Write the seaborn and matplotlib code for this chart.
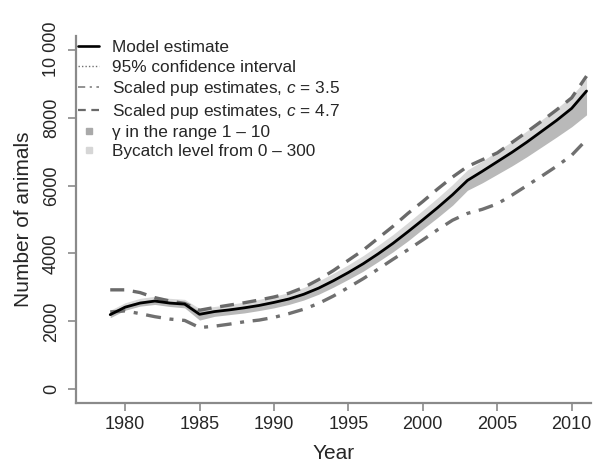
import matplotlib
matplotlib.use("Agg")
import matplotlib.pyplot as plt
import seaborn as sns
import pandas as pd
from matplotlib.lines import Line2D

years = list(range(1979, 2012))
model = [2200, 2420, 2540, 2600, 2540, 2510, 2210, 2290, 2340, 2400,
         2470, 2560, 2660, 2800, 2980, 3200, 3440, 3700, 3990, 4300,
         4640, 4990, 5350, 5730, 6150, 6420, 6700, 6980, 7280, 7600,
         7920, 8270, 8780]
pup_c47 = [2930, 2930, 2850, 2700, 2600, 2530, 2330, 2410, 2480, 2550,
           2630, 2720, 2830, 3000, 3230, 3500, 3800, 4100, 4450, 4800,
           5180, 5530, 5900, 6250, 6560, 6760, 6960, 7270, 7580, 7900,
           8230, 8580, 9220]
pup_c35 = [2280, 2310, 2230, 2140, 2070, 2030, 1820, 1860, 1920, 1990,
           2040, 2120, 2230, 2360, 2530, 2750, 3000, 3260, 3540, 3830,
           4110, 4400, 4700, 4980, 5180, 5300, 5460, 5720, 6000, 6280,
           6570, 6890, 7350]
gamma_low = [2110, 2330, 2450, 2500, 2440, 2400, 2040, 2150, 2200, 2250,
             2320, 2400, 2500, 2630, 2800, 3010, 3240, 3480, 3760, 4050,
             4370, 4720, 5060, 5420, 5860, 6080, 6330, 6580, 6850, 7140,
             7430, 7730, 8080]
gamma_high = [2260, 2480, 2600, 2660, 2600, 2580, 2300, 2340, 2390, 2450,
              2520, 2610, 2710, 2850, 3030, 3250, 3490, 3750, 4040, 4350,
              4690, 5040, 5400, 5780, 6200, 6470, 6750, 7030, 7330, 7650,
              7970, 8320, 8840]
bycatch_high = [2330, 2550, 2680, 2740, 2680, 2650, 2380, 2440, 2500, 2570,
                2650, 2740, 2850, 3000, 3190, 3420, 3670, 3940, 4240, 4560,
                4910, 5270, 5640, 6030, 6460, 6720, 7010, 7300, 7610, 7940,
                8270, 8630, 9150]

x_ticks = [1980, 1985, 1990, 1995, 2000, 2005, 2010]
y_ticks = [0, 2000, 4000, 6000, 8000, 10000]
y_tick_labels = ["0", "2000", "4000", "6000", "8000", "10 000"]

labels = ["Model estimate", "95% confidence interval",
          "Scaled pup estimates, $c$ = 3.5", "Scaled pup estimates, $c$ = 4.7",
          "\u03b3 in the range 1 \u2013 10", "Bycatch level from 0 \u2013 300"]

sns.set_style("ticks")
plt.rcParams["font.family"] = ["Liberation Sans", "DejaVu Sans"]
plt.rcParams["mathtext.fontset"] = "custom"
plt.rcParams["mathtext.it"] = "Liberation Sans:italic"
plt.rcParams["mathtext.rm"] = "Liberation Sans"

axis_grey = "#8a8a8a"
text_col = "#262626"

fig = plt.figure(figsize=(5.93, 4.63), dpi=100)
ax = fig.add_axes([76 / 593, 60 / 463, 515 / 593, 367 / 463])

ax.fill_between(years, model, bycatch_high, color="#d9d9d9", lw=0, zorder=1)
ax.fill_between(years, gamma_low, gamma_high, color="#b9b9b9", lw=0, zorder=2)

df = pd.DataFrame({"Year": years, "model": model, "c35": pup_c35, "c47": pup_c47})
sns.lineplot(data=df, x="Year", y="c35", ax=ax, color="#707070", lw=2.4,
             dashes=False, zorder=3)
ax.lines[-1].set_dashes([4.5, 2.6, 1.2, 2.6])
sns.lineplot(data=df, x="Year", y="c47", ax=ax, color="#6a6a6a", lw=2.4, zorder=3)
ax.lines[-1].set_dashes([4.2, 2.6])
sns.lineplot(data=df, x="Year", y="model", ax=ax, color="black", lw=2.0, zorder=4)

ax.set_xlim(1976.7, 2011.3)
ax.set_ylim(-400, 10400)
ax.set_xticks(x_ticks)
ax.set_xticklabels([str(t) for t in x_ticks])
ax.set_yticks(y_ticks)
ax.set_yticklabels(y_tick_labels, rotation=90, va="center")

for s in ["top", "right"]:
    ax.spines[s].set_visible(False)
for s in ["left", "bottom"]:
    ax.spines[s].set_color(axis_grey)
    ax.spines[s].set_linewidth(1.6)
ax.tick_params(axis="both", colors=axis_grey, labelcolor=text_col, length=5.5,
               width=1.2, labelsize=13)
ax.tick_params(axis="x", pad=4)
ax.tick_params(axis="y", pad=6)

ax.set_xlabel("Year", fontsize=15, color=text_col, labelpad=8)
ax.set_ylabel("Number of animals", fontsize=15, color=text_col, labelpad=7.5)

handles = [
    Line2D([], [], color="black", lw=1.9),
    Line2D([], [], color="#707070", lw=1.0, ls=(0, (1, 1.5))),
    Line2D([], [], color="#8a8a8a", lw=1.3, dashes=[4, 2.5, 1.2, 2.5]),
    Line2D([], [], color="#6a6a6a", lw=1.6, dashes=[3.5, 2.5]),
    Line2D([], [], color="#a9a9a9", marker="s", ls="none", markersize=4.5),
    Line2D([], [], color="#d6d6d6", marker="s", ls="none", markersize=4.5),
]
leg = ax.legend(handles, labels, loc="upper left", bbox_to_anchor=(-0.01, 1.007),
                frameon=False, fontsize=12.4, handlelength=1.25, handletextpad=0.75,
                labelspacing=0.24, borderaxespad=0.0, labelcolor=text_col)

fig.savefig("out.png", dpi=100)
